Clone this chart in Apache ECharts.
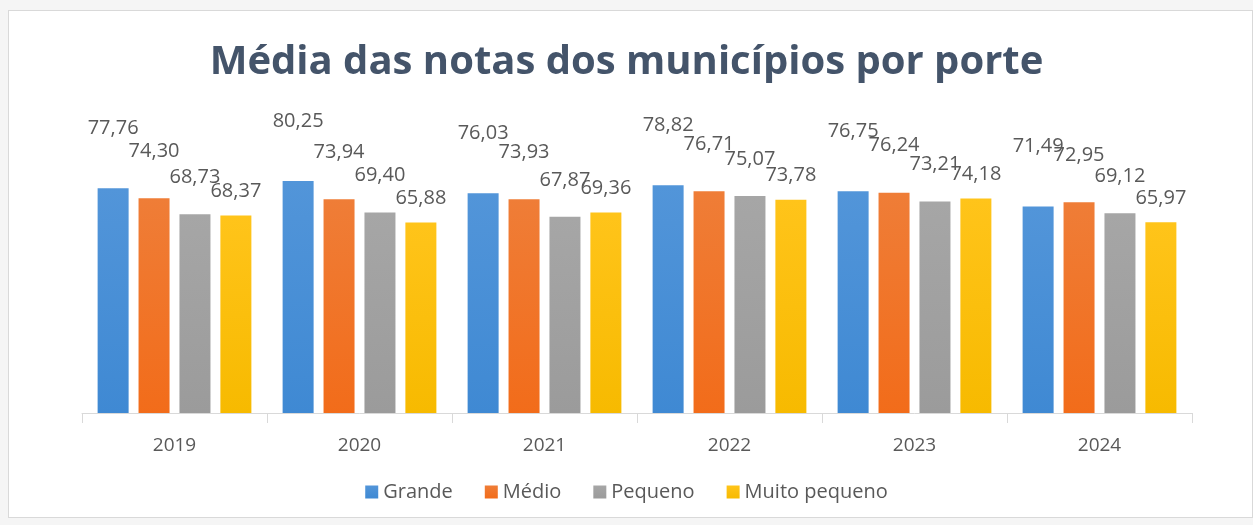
<!DOCTYPE html>
<html>
<head>
<meta charset="utf-8">
<script src="https://cdn.jsdelivr.net/npm/echarts@6/dist/echarts.min.js"></script>
<style>
  html, body { margin: 0; padding: 0; background: #f5f5f5; }
  #frame { position: absolute; left: 8px; top: 10px; width: 1245px; height: 508px; background: #fff; border: 1px solid #d9d9d9; box-sizing: border-box; }
  #chart { position: absolute; left: 0; top: 0; width: 1253px; height: 525px; }
</style>
</head>
<body>
<div id="frame"></div>
<div id="chart"></div>
<script>
const years = ["2019", "2020", "2021", "2022", "2023", "2024"];
const grande = [77.76, 80.25, 76.03, 78.82, 76.75, 71.49];
const medio = [74.30, 73.94, 73.93, 76.71, 76.24, 72.95];
const pequeno = [68.73, 69.40, 67.87, 75.07, 73.21, 69.12];
const muitoPequeno = [68.37, 65.88, 69.36, 73.78, 74.18, 65.97];

const font = "'Open Sans', 'Noto Sans', sans-serif";
const textGray = "#595959";

// gradiente vertical leve, como no Excel
function grad(top, bottom) {
  return new echarts.graphic.LinearGradient(0, 0, 0, 1, [
    { offset: 0, color: top },
    { offset: 1, color: bottom },
  ]);
}

function makeSeries(name, data, top, bottom, dy) {
  return {
    name,
    type: "bar",
    data,
    barWidth: 31,
    barGap: "32%",
    itemStyle: { color: grad(top, bottom) },
    label: {
      show: true,
      position: "top",
      distance: 5,
      offset: [0, dy],
      color: textGray,
      fontSize: 20,
      fontFamily: font,
      formatter: (p) => p.value.toFixed(2).replace(".", ","),
    },
  };
}

const chart = echarts.init(document.getElementById("chart"));
chart.setOption({
  animation: false,
  color: ["#4a90d8", "#f07a2e", "#a3a3a3", "#ffc20e"],
  title: {
    text: "Média das notas dos municípios por porte",
    left: "center",
    top: 38,
    textStyle: { fontSize: 40, fontWeight: "bold", color: "#44546a", fontFamily: font },
  },
  legend: {
    bottom: 18,
    left: "center",
    icon: "rect",
    itemWidth: 13,
    itemHeight: 13,
    itemGap: 32,
    textStyle: { fontSize: 20, color: textGray, fontFamily: font },
  },
  grid: { left: 82, right: 61, top: 124, bottom: 112 },
  xAxis: {
    type: "category",
    data: years,
    axisLine: { lineStyle: { color: "#d9d9d9" } },
    axisTick: { show: true, length: 10, lineStyle: { color: "#d9d9d9" } },
    axisLabel: { fontSize: 19, color: textGray, fontFamily: font, margin: 23 },
  },
  yAxis: {
    type: "value",
    min: 0,
    max: 100,
    show: false,
    splitLine: { show: false },
  },
  series: [
    makeSeries("Grande", grande, "#5295d9", "#3f89d3", -45),
    makeSeries("Médio", medio, "#ef7d37", "#f26c1a", -32),
    makeSeries("Pequeno", pequeno, "#a6a6a6", "#9b9b9b", -22),
    makeSeries("Muito pequeno", muitoPequeno, "#ffc41a", "#f7ba00", -9),
  ],
});
</script>
</body>
</html>
